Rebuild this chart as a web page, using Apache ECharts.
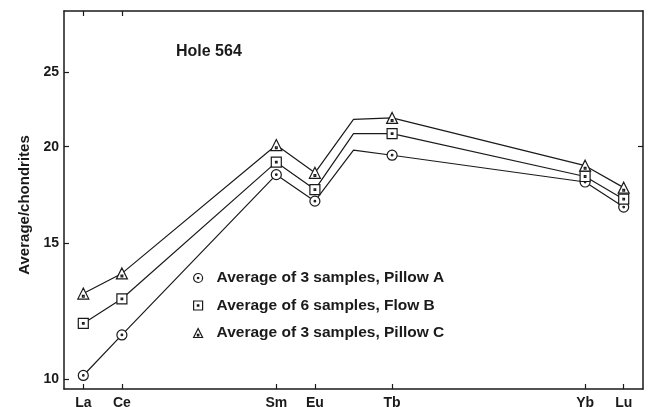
<!DOCTYPE html>
<html>
<head>
<meta charset="utf-8">
<script src="https://cdn.jsdelivr.net/npm/echarts@6/dist/echarts.min.js"></script>
<style>
  html, body { margin: 0; padding: 0; background: #fff; }
  #main { width: 652px; height: 407px; }
</style>
</head>
<body>
<div id="main"></div>
<script>
// REE pattern, Hole 564
var elements = ['La', 'Ce', 'Sm', 'Eu', 'Gd', 'Tb', 'Yb', 'Lu'];
var atomicNumbers = [57, 58, 62, 63, 64, 65, 70, 71];
var pillowA = [10.1, 11.4, 18.4, 17.0, 19.8, 19.5, 18.0, 16.7];
var flowB = [11.8, 12.7, 19.1, 17.6, 20.8, 20.8, 18.3, 17.1];
var pillowC = [12.9, 13.7, 20.1, 18.5, 21.7, 21.8, 18.9, 17.7];
var unmarked = ['Gd'];   // kink in the line, no symbol, no label
var yTicks = [10, 15, 20, 25];
var seriesNames = [
  'Average of 3 samples, Pillow A',
  'Average of 6 samples, Flow B',
  'Average of 3 samples, Pillow C'
];

var symCircle = 'path://M0,-5A5,5 0 1,1 0,5A5,5 0 1,1 0,-5ZM0,-0.8A0.8,0.8 0 1,1 0,0.8A0.8,0.8 0 1,1 0,-0.8Z';
var symSquare = 'path://M-5,-5L5,-5L5,5L-5,5ZM-0.8,-0.8L0.8,-0.8L0.8,0.8L-0.8,0.8Z';
var symTriangle = 'path://M0,-5L5,5L-5,5ZM-0.8,1.6L0.8,1.6L0.8,3.2L-0.8,3.2Z';

var font = 'Liberation Sans, Arial, sans-serif';
var ink = '#1a1a1a';

function makeData(values) {
  return atomicNumbers.map(function (z, i) {
    var item = { value: [z, values[i]] };
    if (unmarked.indexOf(elements[i]) >= 0) item.symbol = 'none';
    return item;
  });
}

function makeSeries(name, values, symbol, size) {
  return {
    name: name,
    type: 'line',
    data: makeData(values),
    symbol: symbol,
    symbolSize: size,
    showAllSymbol: true,
    lineStyle: { color: ink, width: 1.2 },
    itemStyle: { color: '#fff', borderColor: ink, borderWidth: 1.2 },
    emphasis: { disabled: true },
    z: 3
  };
}

var labelValues = atomicNumbers.filter(function (z, i) {
  return unmarked.indexOf(elements[i]) < 0;
});

var chart = echarts.init(document.getElementById('main'));
var option = {
  animation: false,
  backgroundColor: '#fff',
  title: {
    text: 'Hole 564',
    left: 176,
    top: 44,
    padding: 0,
    textStyle: { fontFamily: font, fontSize: 16, fontWeight: 'bold', color: ink }
  },
  legend: {
    orient: 'vertical',
    left: 188,
    top: 265,
    itemGap: 11.5,
    itemWidth: 9,
    itemHeight: 9,
    selectedMode: false,
    textStyle: { fontFamily: font, fontSize: 15.5, fontWeight: 'bold', color: ink, padding: [0, 0, 0, 9] },
    itemStyle: { color: '#fff', borderColor: ink, borderWidth: 1.2 },
    data: [
      { name: seriesNames[0], icon: symCircle },
      { name: seriesNames[1], icon: symSquare },
      { name: seriesNames[2], icon: symTriangle }
    ]
  },
  grid: { left: 64, top: 11, right: 9, bottom: 18, containLabel: false, outerBoundsMode: 'none' },
  xAxis: [{
    type: 'value',
    min: 56.5,
    max: 71.5,
    position: 'bottom',
    splitLine: { show: false },
    axisLine: { lineStyle: { color: ink, width: 1.5 } },
    axisTick: { inside: true, length: 5, customValues: labelValues, lineStyle: { color: ink, width: 1.2 } },
    axisLabel: {
      customValues: labelValues,
      margin: 7,
      fontFamily: font, fontSize: 14, fontWeight: 'bold', color: ink,
      formatter: function (v) {
        var i = atomicNumbers.indexOf(Math.round(v));
        return i >= 0 ? elements[i] : '';
      }
    }
  }, {
    type: 'value',
    min: 56.5,
    max: 71.5,
    position: 'top',
    splitLine: { show: false },
    axisLine: { lineStyle: { color: ink, width: 1.5 } },
    axisTick: { inside: true, length: 5, customValues: [57, 58], lineStyle: { color: ink, width: 1.2 } },
    axisLabel: { show: false }
  }],
  yAxis: [{
    type: 'log',
    logBase: 10,
    min: 9.7,
    max: 30,
    position: 'left',
    name: 'Average/chondrites',
    nameLocation: 'middle',
    nameRotate: 90,
    nameGap: 32,
    nameTextStyle: { fontFamily: font, fontSize: 15, fontWeight: 'bold', color: ink, padding: [0, 10, 0, 0] },
    splitLine: { show: false },
    axisLine: { lineStyle: { color: ink, width: 1.5 } },
    axisTick: { inside: true, length: 5, customValues: yTicks, lineStyle: { color: ink, width: 1.2 } },
    axisLabel: {
      customValues: yTicks,
      margin: 5,
      fontFamily: font, fontSize: 14, fontWeight: 'bold', color: ink
    }
  }, {
    type: 'log',
    logBase: 10,
    min: 9.7,
    max: 30,
    position: 'right',
    splitLine: { show: false },
    axisLine: { lineStyle: { color: ink, width: 1.5 } },
    axisTick: { inside: true, length: 5, customValues: [20], lineStyle: { color: ink, width: 1.2 } },
    axisLabel: { show: false }
  }],
  series: [
    makeSeries(seriesNames[0], pillowA, symCircle, 10),
    makeSeries(seriesNames[1], flowB, symSquare, 10),
    makeSeries(seriesNames[2], pillowC, symTriangle, 11)
  ]
};
chart.setOption(option);
</script>
</body>
</html>
